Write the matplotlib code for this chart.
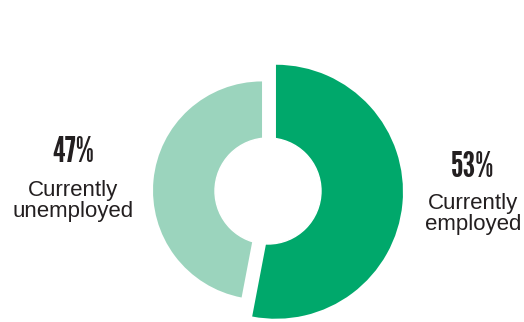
import matplotlib.pyplot as plt
from matplotlib.patches import Circle

# data
labels = ['Currently\nemployed', 'Currently\nunemployed']
values = [53, 47]
pct_labels = ['53%', '47%']
colors = ['#00a86b', '#9bd4bd']

fig = plt.figure(figsize=(5.24, 3.22), dpi=100)
ax = fig.add_axes([0, 0, 1, 1])

# pie in pixel units (y up), hole drawn as a white disc on top
cx, cy = 268, 131
wedges, _ = ax.pie(values, startangle=90, counterclock=False, radius=127,
                   center=(cx, cy), explode=[8, 6], colors=colors,
                   wedgeprops=dict(linewidth=0))
# unemployed slice is drawn smaller
wedges[1].set_radius(109)
ax.add_patch(Circle((cx, cy), 53, color='white', zorder=5))

ax.set_xlim(0, 524)
ax.set_ylim(0, 322)
ax.axis('off')

pct_font = dict(family=['League Gothic', 'DejaVu Sans'], fontsize=26,
                color='#231f20', ha='center', va='baseline')
txt_font = dict(family=['Liberation Sans', 'DejaVu Sans'], fontsize=16,
                color='#231f20', ha='center', va='baseline', linespacing=1.0)

# right label (employed)
ax.text(473, 322 - 177, pct_labels[0], **pct_font)
ax.text(473, 322 - 230, labels[0], **txt_font)
# left label (unemployed)
ax.text(73, 322 - 162, pct_labels[1], **pct_font)
ax.text(73, 322 - 217, labels[1], **txt_font)

fig.savefig('out.png', dpi=100)
